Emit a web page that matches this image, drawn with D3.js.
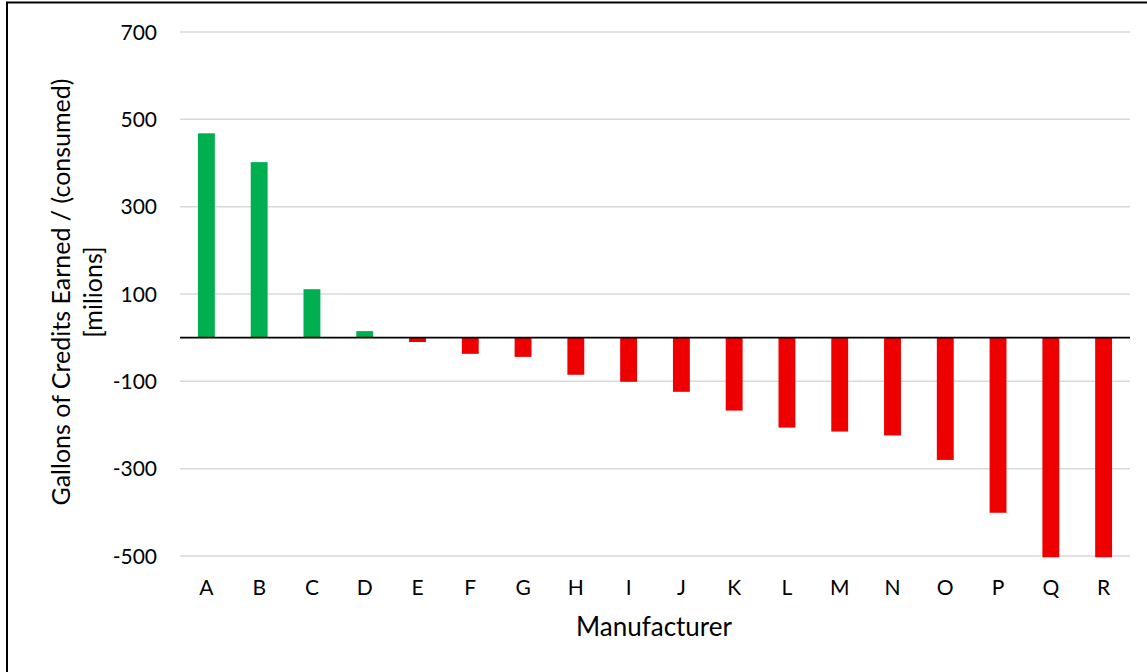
<!DOCTYPE html>
<html>
<head>
<meta charset="utf-8">
<script src="https://cdn.jsdelivr.net/npm/d3@7"></script>
<style>
  html, body { margin: 0; padding: 0; background: #fff; }
  svg { display: block; font-family: Lato, "Open Sans", sans-serif; }
</style>
</head>
<body>
<svg id="chart" width="1147" height="672"></svg>
<script>
// Net credit balance per manufacturer, millions of gallons
const manufacturers = ["A","B","C","D","E","F","G","H","I","J","K","L","M","N","O","P","Q","R"];
const credits = [468, 402, 111, 15, -10, -37, -44, -85, -101, -124, -167, -206, -215, -224, -280, -401, -503, -503];
const yTicks = [-500, -300, -100, 100, 300, 500, 700];
const yDomain = [-500, 700];

const svg = d3.select("#chart");
const W = 1147, H = 672;
const plot = { left: 180, right: 1130, top: 32, bottom: 556 };

// outer frame (left and top edges visible)
svg.append("line").attr("x1", 7).attr("x2", 7).attr("y1", 2).attr("y2", H)
  .attr("stroke", "#000").attr("stroke-width", 2);
svg.append("line").attr("x1", 6).attr("x2", W).attr("y1", 2.5).attr("y2", 2.5)
  .attr("stroke", "#000").attr("stroke-width", 2);

const x = d3.scaleBand()
  .domain(manufacturers)
  .range([plot.left, plot.right])
  .paddingInner(0.68)
  .paddingOuter(0.34);

const y = d3.scaleLinear().domain(yDomain).range([plot.bottom, plot.top]);

// horizontal gridlines
svg.append("g").selectAll("line").data(yTicks).join("line")
  .attr("x1", plot.left).attr("x2", plot.right)
  .attr("y1", d => y(d)).attr("y2", d => y(d))
  .attr("stroke", "#d9d9d9").attr("stroke-width", 1.5);

// y tick labels
svg.append("g").selectAll("text").data(yTicks).join("text")
  .attr("x", 157).attr("y", d => y(d))
  .attr("dy", "0.36em")
  .attr("text-anchor", "end")
  .attr("font-size", 21)
  .attr("fill", "#000")
  .text(d => d);

// bars
svg.append("g").selectAll("rect").data(credits).join("rect")
  .attr("x", (d, i) => x(manufacturers[i]))
  .attr("width", x.bandwidth())
  .attr("y", d => y(Math.max(0, d)))
  .attr("height", d => Math.abs(y(d) - y(0)))
  .attr("fill", d => d >= 0 ? "#00b050" : "#ee0000");

// zero baseline
svg.append("line")
  .attr("x1", plot.left).attr("x2", plot.right)
  .attr("y1", y(0)).attr("y2", y(0))
  .attr("stroke", "#000").attr("stroke-width", 1.8);

// category labels
svg.append("g").selectAll("text").data(manufacturers).join("text")
  .attr("x", d => x(d) + x.bandwidth() / 2)
  .attr("y", 587)
  .attr("dy", "0.36em")
  .attr("text-anchor", "middle")
  .attr("font-size", 21)
  .attr("fill", "#000")
  .text(d => d);

// axis titles
svg.append("text")
  .attr("x", 654).attr("y", 627)
  .attr("dy", "0.36em")
  .attr("text-anchor", "middle").attr("font-size", 26)
  .text("Manufacturer");

const yTitle = svg.append("text")
  .attr("transform", "translate(61,292) rotate(-90)")
  .attr("text-anchor", "middle").attr("font-size", 25);
yTitle.append("tspan").attr("x", 0).attr("dy", "0.36em").text("Gallons of Credits Earned / (consumed)");
yTitle.append("tspan").attr("x", 0).attr("dy", "1.28em").text("[milions]");
</script>
</body>
</html>
